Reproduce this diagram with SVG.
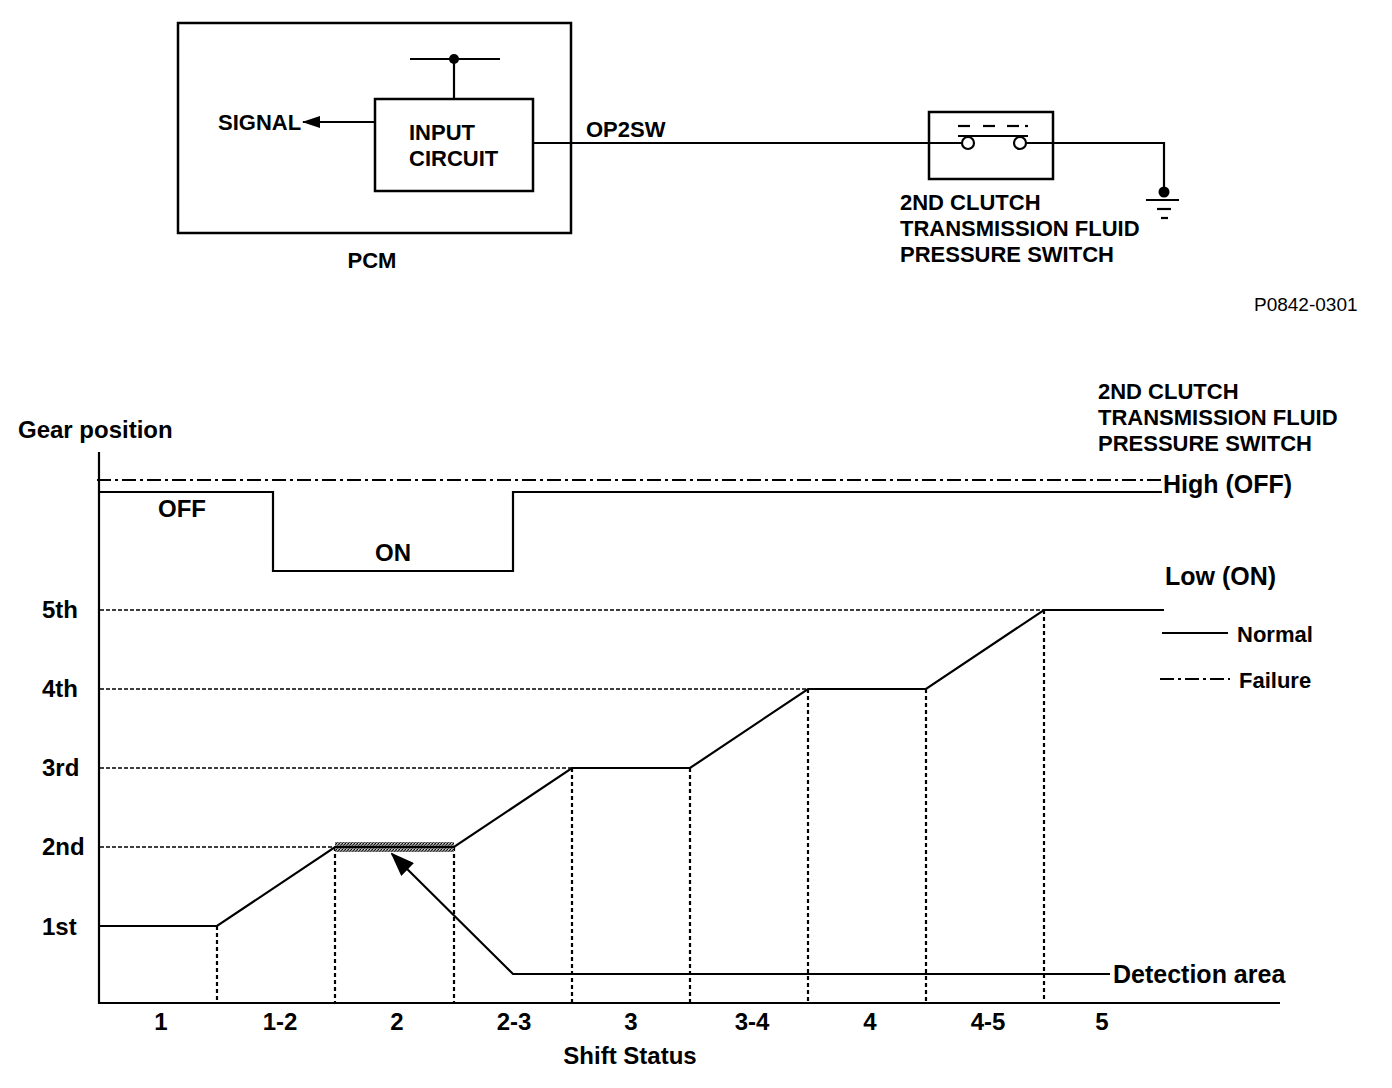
<svg xmlns="http://www.w3.org/2000/svg" width="1392" height="1088" viewBox="0 0 1392 1088">
<style>
  text{font-family:"Liberation Sans",Arial,sans-serif;font-weight:bold;fill:#000}
  .t22{font-size:22px}
  .t24{font-size:24px}
  .t25{font-size:25px}
  .reg{font-weight:normal;font-size:19px}
  .box{fill:none;stroke:#000;stroke-width:2.5}
  .w{fill:none;stroke:#000;stroke-width:2.2}
  .gh{fill:none;stroke:#000;stroke-width:1.6;stroke-dasharray:4 2}
  .gv{fill:none;stroke:#000;stroke-width:2.2;stroke-dasharray:4 3}
  .dd{fill:none;stroke:#000;stroke-width:2;stroke-dasharray:14 4 3 4}
</style>
<defs>
  <marker id="ah" markerWidth="24" markerHeight="18" refX="22" refY="9" orient="auto" markerUnits="userSpaceOnUse">
    <path d="M0,0 L24,9 L0,18 Z" fill="#000"/>
  </marker>
  <marker id="ahs" markerWidth="18" markerHeight="12" refX="17" refY="6" orient="auto" markerUnits="userSpaceOnUse">
    <path d="M0,0 L18,6 L0,12 Z" fill="#000"/>
  </marker>
  <pattern id="stip" width="3" height="3" patternUnits="userSpaceOnUse">
    <rect width="3" height="3" fill="#888"/>
    <rect width="1" height="1" fill="#000"/>
    <rect x="2" y="1" width="1" height="1" fill="#222"/>
    <rect x="1" y="2" width="1" height="1" fill="#444"/>
    <rect x="1" y="0" width="1" height="1" fill="#ccc"/>
  </pattern>
</defs>
<rect width="1392" height="1088" fill="#fff"/>

<!-- Top circuit -->
<g id="pcm">
  <rect class="box" x="178" y="23" width="393" height="210"/>
  <text class="t22" x="372" y="268" text-anchor="middle">PCM</text>
</g>
<g id="input-circuit">
  <rect class="box" x="375" y="99" width="158" height="92"/>
  <text class="t22" x="409" y="140">INPUT</text>
  <text class="t22" x="409" y="166">CIRCUIT</text>
  <line class="w" x1="410" y1="59" x2="500" y2="59"/>
  <circle cx="454" cy="59" r="5" fill="#000"/>
</g>
<g id="signal">
  <text class="t22" x="218" y="130">SIGNAL</text>
</g>
<g id="switch">
  <rect class="box" x="929" y="112" width="124" height="67"/>
  <circle cx="968" cy="143" r="6" fill="#fff" stroke="#000" stroke-width="2.2"/>
  <circle cx="1020" cy="143" r="6" fill="#fff" stroke="#000" stroke-width="2.2"/>
  <line class="w" x1="958" y1="136" x2="1028" y2="136"/>
  <line class="w" x1="958" y1="126" x2="970" y2="126"/>
  <line class="w" x1="983" y1="126" x2="995" y2="126"/>
  <line class="w" x1="1007" y1="126" x2="1019" y2="126"/>
  <line class="w" x1="1025" y1="126" x2="1028" y2="126"/>
  <text class="t22" x="900" y="210">2ND CLUTCH</text>
  <text class="t22" x="900" y="236">TRANSMISSION FLUID</text>
  <text class="t22" x="900" y="262">PRESSURE SWITCH</text>
</g>
<g id="ground">
  <circle cx="1164" cy="192" r="5.5" fill="#000"/>
  <line class="w" x1="1146" y1="200" x2="1179" y2="200"/>
  <line class="w" x1="1157" y1="209" x2="1171" y2="209"/>
  <line class="w" x1="1161" y1="218" x2="1168" y2="218"/>
</g>
<g id="connectors">
  <line class="w" x1="454" y1="59" x2="454" y2="99"/>
  <line class="w" x1="375" y1="122" x2="303" y2="122" marker-end="url(#ahs)"/>
  <line class="w" x1="533" y1="143" x2="962" y2="143"/>
  <polyline class="w" points="1026,143 1164,143 1164,192"/>
  <text class="t22" x="586" y="137">OP2SW</text>
</g>
<text class="reg" x="1254" y="311">P0842-0301</text>

<!-- Chart -->
<g id="chart-axes">
  <line class="w" x1="99" y1="452" x2="99" y2="1004"/>
  <line class="w" x1="98" y1="1003" x2="1280" y2="1003"/>
  <text class="t24" x="18" y="438">Gear position</text>
  <text class="t24" x="42" y="618">5th</text>
  <text class="t24" x="42" y="697">4th</text>
  <text class="t24" x="42" y="776">3rd</text>
  <text class="t24" x="42" y="855">2nd</text>
  <text class="t24" x="42" y="935">1st</text>
  <g class="t24" text-anchor="middle">
    <text x="161" y="1030">1</text>
    <text x="280" y="1030">1-2</text>
    <text x="397" y="1030">2</text>
    <text x="514" y="1030">2-3</text>
    <text x="631" y="1030">3</text>
    <text x="752" y="1030">3-4</text>
    <text x="870" y="1030">4</text>
    <text x="988" y="1030">4-5</text>
    <text x="1102" y="1030">5</text>
  </g>
  <text class="t24" x="630" y="1064" text-anchor="middle">Shift Status</text>
</g>
<g id="grid">
  <line class="gh" x1="100" y1="610" x2="1044" y2="610"/>
  <line class="gh" x1="100" y1="689" x2="808" y2="689"/>
  <line class="gh" x1="100" y1="768" x2="572" y2="768"/>
  <line class="gh" x1="100" y1="847" x2="335" y2="847"/>
  <line class="gv" x1="217" y1="926" x2="217" y2="1002"/>
  <line class="gv" x1="335" y1="847" x2="335" y2="1002"/>
  <line class="gv" x1="454" y1="847" x2="454" y2="1002"/>
  <line class="gv" x1="572" y1="768" x2="572" y2="1002"/>
  <line class="gv" x1="690" y1="768" x2="690" y2="1002"/>
  <line class="gv" x1="808" y1="689" x2="808" y2="1002"/>
  <line class="gv" x1="926" y1="689" x2="926" y2="1002"/>
  <line class="gv" x1="1044" y1="610" x2="1044" y2="1002"/>
</g>
<g id="detection-bar">
  <rect x="335" y="842" width="119" height="10" fill="url(#stip)"/>
</g>
<g id="gear-line">
  <polyline class="w" points="99,926 217,926 335,847 454,847 572,768 690,768 808,689 926,689 1044,610 1164,610"/>
</g>
<g id="switch-signal">
  <line class="dd" x1="97" y1="480" x2="1162" y2="480"/>
  <polyline class="w" points="99,492 273,492 273,571 513,571 513,492 1162,492"/>
  <text class="t24" x="158" y="517">OFF</text>
  <text class="t24" x="375" y="561">ON</text>
  <text class="t25" x="1163" y="493">High (OFF)</text>
  <text class="t25" x="1165" y="585">Low (ON)</text>
  <text class="t22" x="1098" y="399">2ND CLUTCH</text>
  <text class="t22" x="1098" y="425">TRANSMISSION FLUID</text>
  <text class="t22" x="1098" y="451">PRESSURE SWITCH</text>
</g>
<g id="detection-area">
  <polyline class="w" points="1110,974 513,974 392,854" marker-end="url(#ah)"/>
  <text class="t25" x="1113" y="983">Detection area</text>
</g>
<g id="legend">
  <line class="w" x1="1162" y1="633" x2="1228" y2="633"/>
  <text class="t22" x="1237" y="642">Normal</text>
  <line class="w" x1="1160" y1="679" x2="1230" y2="679" stroke-dasharray="14 4 3 4"/>
  <text class="t22" x="1239" y="688">Failure</text>
</g>
</svg>
